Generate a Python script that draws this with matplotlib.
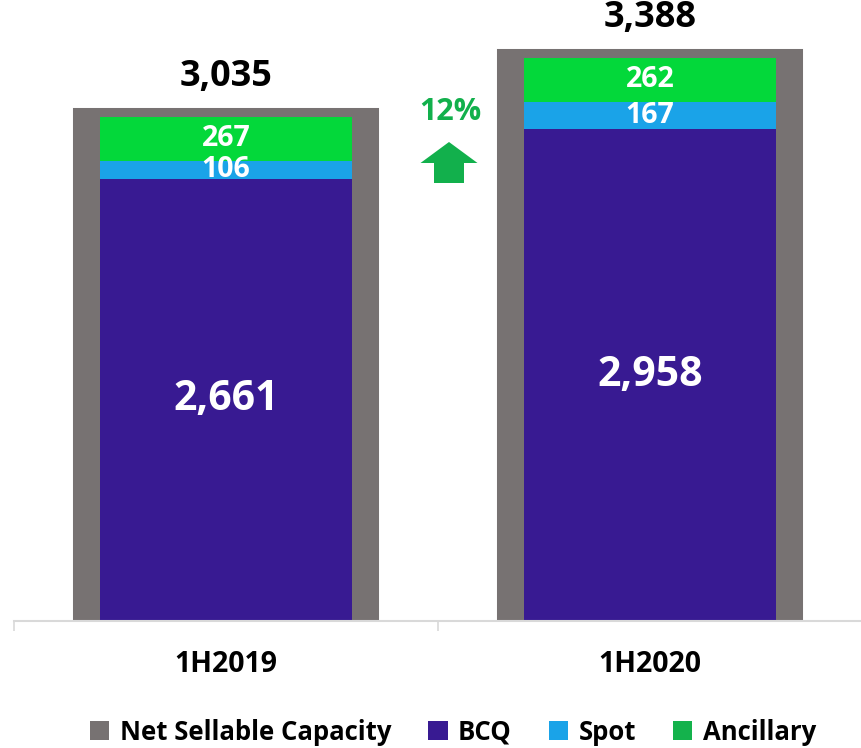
import matplotlib
matplotlib.use("Agg")
import matplotlib.pyplot as plt
from matplotlib.patches import FancyArrow, Patch
import numpy as np

plt.rcParams['font.family'] = ['Open Sans', 'DejaVu Sans']
plt.rcParams['font.weight'] = 'bold'

categories = ["1H2019", "1H2020"]
net_sellable = [3035, 3388]
bcq = [2661, 2958]
spot = [106, 167]
ancillary = [267, 262]
series_names = ["Net Sellable Capacity", "BCQ", "Spot", "Ancillary"]
growth_label = "12%"

c_gray = "#777272"
c_bcq = "#381a92"
c_spot = "#1aa3e8"
c_anc = "#03d83a"
c_anc_leg = "#14b24c"
c_arrow = "#12b04c"

fig = plt.figure(figsize=(8.62, 7.48), dpi=100)
ax = fig.add_axes([14/862, 127/748, 1 - 14/862, 621/748])

x = np.arange(len(categories))
lw_pt = 13
ax.bar(x, net_sellable, width=0.68, color=c_gray, edgecolor=c_gray,
       linewidth=lw_pt, joinstyle='miter', zorder=1)
b1 = ax.bar(x, bcq, width=0.596, color=c_bcq, zorder=2)
b2 = ax.bar(x, spot, width=0.596, bottom=bcq, color=c_spot, zorder=2)
bottom2 = [a + b for a, b in zip(bcq, spot)]
b3 = ax.bar(x, ancillary, width=0.596, bottom=bottom2, color=c_anc, zorder=2)

ax.bar_label(b1, labels=[f"{v:,}" for v in bcq], label_type='center',
             color='white', fontsize=29.5, fontweight='bold')
ax.bar_label(b2, labels=[f"{v:,}" for v in spot], label_type='center',
             color='white', fontsize=20.5, fontweight='bold')
ax.bar_label(b3, labels=[f"{v:,}" for v in ancillary], label_type='center',
             color='white', fontsize=20.5, fontweight='bold')

for xi, v in zip(x, net_sellable):
    ax.annotate(f"{v:,}", xy=(xi, v), xytext=(0, 28.5), textcoords='offset points',
                ha='center', va='center', fontsize=26, fontweight='bold', color='black')

ax.set_xlim(-0.5, 1.47)
ax.set_ylim(0, 3736)
ax.set_xticks(x)
ax.set_xticklabels(categories, fontsize=20.5, fontweight='bold')
ax.tick_params(axis='x', which='major', length=0, pad=21)
ax.set_xticks([-0.5, 0.5, 1.5], minor=True)
ax.tick_params(axis='x', which='minor', length=7, color='#d9d9d9', width=1.2)
ax.set_yticks([])
for s in ['top', 'left', 'right']:
    ax.spines[s].set_visible(False)
ax.spines['bottom'].set_color('#d9d9d9')
ax.spines['bottom'].set_linewidth(1.5)
ax.set_facecolor('none')

# growth annotation
fig.text(450/862, 1 - 112/748, growth_label, color=c_arrow, fontsize=22,
         fontweight='bold', ha='center', va='center')
arrow = FancyArrow(4.49, 5.65, 0, 0.41, width=0.30, head_width=0.57, head_length=0.21,
                   length_includes_head=True, transform=fig.dpi_scale_trans,
                   color=c_arrow, linewidth=0)
fig.add_artist(arrow)

handles = [Patch(facecolor=c_gray), Patch(facecolor=c_bcq),
           Patch(facecolor=c_spot), Patch(facecolor=c_anc_leg)]
fig.legend(handles, series_names, loc='center', bbox_to_anchor=(453/862, 1 - 732/748),
           ncol=4, frameon=False, handlelength=0.75, handleheight=0.75,
           handletextpad=0.4, columnspacing=1.45,
           prop={'weight': 'bold', 'size': 18.5})

fig.savefig("out.png", dpi=100)
